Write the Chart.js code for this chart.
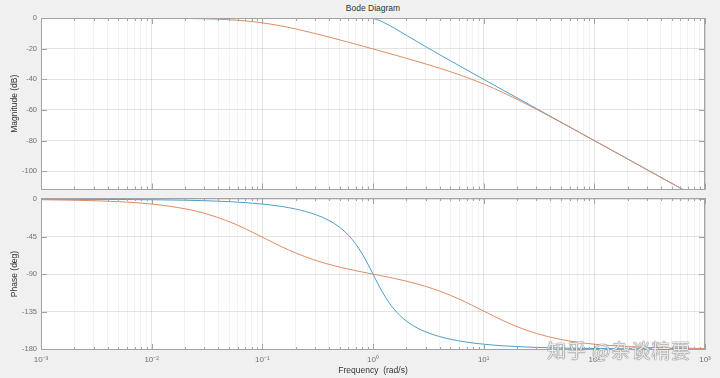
<!DOCTYPE html>
<html>
<head>
<meta charset="utf-8">
<script src="https://cdn.jsdelivr.net/npm/chart.js@4.4.1/dist/chart.umd.min.js"></script>
<style>
  html, body { margin: 0; padding: 0; background: #f0f0f0; }
  #wrap { position: relative; width: 720px; height: 378px; overflow: hidden; }
  canvas { position: absolute; left: 0; }
  #magCanvas { top: 0; }
  #phaseCanvas { top: 186px; }
  #title { position: absolute; left: 0; width: 746px; top: 3px; text-align: center;
           font: 8.5px "Liberation Sans", Arial, sans-serif; color: #333; }
  #mark { position: absolute; left: 547px; top: 336px; white-space: nowrap;
          font: 19px "Noto Sans CJK SC", sans-serif; letter-spacing: 1px;
          color: rgba(255,255,255,0.85);
          text-shadow: 0 0 1px #777, 0 0 1px #777, 0 0 1px #888; }
</style>
</head>
<body>
<div id="wrap">
  <div id="title">Bode Diagram</div>
  <canvas id="magCanvas" width="720" height="198"></canvas>
  <canvas id="phaseCanvas" width="720" height="192"></canvas>
  <div id="mark">知乎 @杂谈精要</div>
</div>
<script>
const freq = [0.001, 0.002, 0.005, 0.01, 0.02, 0.03, 0.05, 0.07, 0.1, 0.15, 0.2, 0.3, 0.4, 0.5, 0.6, 0.7, 0.8, 0.9,
  1, 1.1, 1.2, 1.4, 1.6, 2, 2.5, 3, 4, 5, 7, 10, 15, 20, 30, 50, 70, 100, 200, 500, 1000];

const magBlue = [0, 0, 0, 0, 0, 0, 0.01, 0.02, 0.04, 0.1, 0.17, 0.37, 0.63, 0.9, 1.14, 1.25, 1.14, 0.73,
  0, -0.98, -2.13, -4.6, -6.98, -11.14, -15.29, -18.63, -23.82, -27.79, -33.72, -39.96, -47.03, -52.03,
  -59.08, -67.96, -73.8, -80, -92.04, -107.96, -120];
const magOrange = [0, 0, -0.01, -0.04, -0.17, -0.37, -0.97, -1.73, -3.01, -5.12, -6.99, -10, -12.31, -14.16,
  -15.7, -17.01, -18.16, -19.17, -20.09, -20.92, -21.68, -23.03, -24.21, -26.2, -28.23, -29.92, -32.69,
  -34.95, -38.64, -43.01, -48.64, -53.01, -59.54, -68.13, -73.89, -80.04, -92.05, -107.96, -120];

const phaseBlue = [-0.06, -0.11, -0.29, -0.57, -1.15, -1.72, -2.87, -4.02, -5.77, -8.72, -11.77, -18.24,
  -25.47, -33.69, -43.15, -53.93, -65.77, -78.08, -90, -100.81, -110.14, -124.44, -134.27, -146.31,
  -154.54, -159.44, -165.07, -168.23, -171.7, -174.23, -176.17, -177.13, -178.09, -178.85, -179.18,
  -179.43, -179.71, -179.89, -179.94];
const phaseOrange = [-0.58, -1.16, -2.89, -5.77, -11.43, -16.87, -26.85, -35.39, -45.57, -57.17, -64.58,
  -73.28, -78.26, -81.55, -83.97, -85.87, -87.45, -88.8, -90, -91.08, -92.08, -93.88, -95.51, -98.45,
  -101.75, -104.79, -110.37, -115.42, -124.17, -134.43, -145.93, -153.15, -161.37, -168.58, -171.79,
  -174.23, -177.11, -178.84, -179.42];

const decades = [-3, -2, -1, 0, 1, 2, 3];
const xTickLabels = ['10⁻³', '10⁻²', '10⁻¹', '10⁰', '10¹', '10²', '10³'];
const magTicks = [0, -20, -40, -60, -80, -100];
const phaseTicks = [0, -45, -90, -135, -180];

const BLUE = '#4f9fc8';
const ORANGE = '#de8c66';
const FONT = '"Liberation Sans", Arial, sans-serif';
const majorGrid = 'rgba(0,0,0,0.11)';
const minorGrid = 'rgba(0,0,0,0.05)';
const boxColor = '#a3a3a3';

// decade and in-between tick positions for the log axis
const xTickValues = [];
decades.forEach((d, i) => {
  const steps = i === decades.length - 1 ? 1 : 9;
  for (let k = 1; k <= steps; k++) xTickValues.push(k * Math.pow(10, d));
});
function decadeIndex(v) {
  const d = Math.round(Math.log10(v));
  if (Math.abs(v - Math.pow(10, d)) / v > 1e-9) return -1;
  return decades.indexOf(d);
}

const frame = {
  id: 'frame',
  beforeDraw(chart) {
    const { ctx, chartArea: a } = chart;
    ctx.save();
    ctx.fillStyle = '#ffffff';
    ctx.fillRect(a.left, a.top, a.width, a.height);
    ctx.restore();
  },
  afterDatasetsDraw(chart) {
    const { ctx, chartArea: a, scales: { x, y } } = chart;
    ctx.save();
    ctx.strokeStyle = boxColor;
    ctx.lineWidth = 1;
    ctx.beginPath();
    x.ticks.forEach(t => {
      const px = Math.round(x.getPixelForValue(t.value)) + 0.5;
      const len = decadeIndex(t.value) >= 0 ? 6 : 3;
      ctx.moveTo(px, a.top); ctx.lineTo(px, a.top + len);
      ctx.moveTo(px, a.bottom); ctx.lineTo(px, a.bottom - len);
    });
    y.ticks.forEach(t => {
      const py = Math.round(y.getPixelForValue(t.value)) + 0.5;
      ctx.moveTo(a.left, py); ctx.lineTo(a.left + 6, py);
      ctx.moveTo(a.right, py); ctx.lineTo(a.right - 6, py);
    });
    ctx.stroke();
    ctx.strokeRect(Math.round(a.left) + 0.5, Math.round(a.top) + 0.5,
      Math.round(a.width) - 1, Math.round(a.height) - 1);
    ctx.restore();
  }
};

function xScale(showLabels) {
  return {
    type: 'logarithmic',
    min: 1e-3,
    max: 1e3,
    afterBuildTicks: s => { s.ticks = xTickValues.map(v => ({ value: v })); },
    afterFit: s => { s.height = showLabels ? 28 : 0; },
    grid: {
      color: c => (c.tick && decadeIndex(c.tick.value) >= 0) ? majorGrid : minorGrid,
      drawTicks: false
    },
    border: { display: false },
    ticks: {
      display: showLabels,
      autoSkip: false,
      maxRotation: 0,
      padding: 5,
      color: '#707070',
      font: { family: FONT, size: 8 },
      callback: v => { const i = decadeIndex(v); return i >= 0 ? xTickLabels[i] : ''; }
    },
    title: {
      display: showLabels,
      text: 'Frequency  (rad/s)',
      color: '#333',
      font: { family: FONT, size: 8.5 },
      padding: { top: 0, bottom: 2 }
    }
  };
}

function yScale(min, max, tickList, label) {
  return {
    min, max,
    afterBuildTicks: s => { s.ticks = tickList.map(v => ({ value: v })); },
    afterFit: s => { s.width = 41; },
    grid: { color: majorGrid, drawTicks: false },
    border: { display: false },
    ticks: { color: '#707070', padding: 4, font: { family: FONT, size: 7.5 } },
    title: {
      display: true,
      text: label,
      color: '#333',
      font: { family: FONT, size: 8.5 },
      padding: { top: 10, bottom: 0 }
    }
  };
}

function line(data, color, order) {
  return {
    data: freq.map((f, i) => ({ x: f, y: data[i] })),
    borderColor: color,
    borderWidth: 1,
    pointRadius: 0,
    fill: false,
    cubicInterpolationMode: 'monotone',
    order
  };
}

function makeChart(id, datasets, y, showLabels, padding) {
  return new Chart(document.getElementById(id).getContext('2d'), {
    type: 'line',
    data: { datasets },
    options: {
      responsive: false,
      animation: false,
      parsing: false,
      layout: { padding },
      plugins: { legend: { display: false }, tooltip: { enabled: false } },
      scales: { x: xScale(showLabels), y }
    },
    plugins: [frame]
  });
}

makeChart('magCanvas',
  [line(magBlue, BLUE, 1), line(magOrange, ORANGE, 0)],
  yScale(-112, 0.15, magTicks, 'Magnitude (dB)'),
  false, { left: 0, right: 15, top: 18, bottom: 8 });

makeChart('phaseCanvas',
  [line(phaseBlue, BLUE, 1), line(phaseOrange, ORANGE, 0)],
  yScale(-181.2, 1.5, phaseTicks, 'Phase (deg)'),
  true, { left: 0, right: 15, top: 12, bottom: 0 });
</script>
</body>
</html>
